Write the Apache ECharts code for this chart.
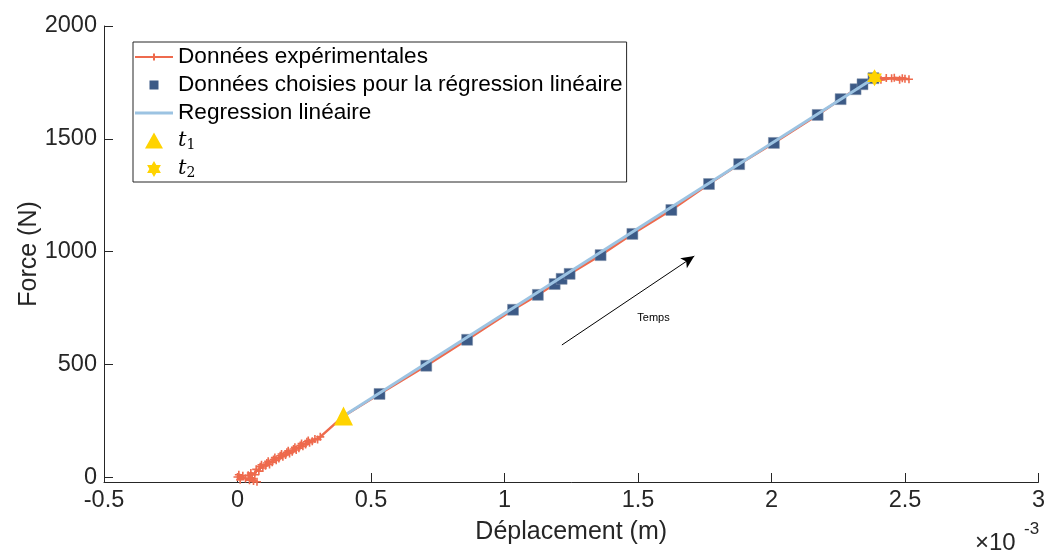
<!DOCTYPE html>
<html>
<head>
<meta charset="utf-8">
<script src="https://cdn.jsdelivr.net/npm/echarts@6/dist/echarts.min.js"></script>
<style>
    html, body { margin: 0; padding: 0; background: #fff; }
    #main { width: 1048px; height: 551px; }
</style>
</head>
<body>
<div id="main"></div>
<script>
    // x in units of 1e-3 m, y in N
    var yTickValues = [0, 500, 1000, 1500, 2000];

    var experimental = [
        [0.000, 2], [0.010, -10], [0.020, 8], [0.005, 12], [0.030, -4], [0.045, -12],
        [0.060, -16], [0.073, -19], [0.055, -6], [0.040, 10], [0.050, 20], [0.065, 12],
        [0.070, 36], [0.080, 28], [0.085, 48], [0.095, 42], [0.090, 56], [0.105, 52],
        [0.110, 64], [0.120, 58], [0.115, 72], [0.130, 68], [0.135, 80], [0.145, 76],
        [0.140, 88], [0.155, 84], [0.160, 96], [0.170, 92], [0.165, 104], [0.180, 100],
        [0.185, 112], [0.195, 106], [0.190, 118], [0.205, 114], [0.210, 126], [0.220, 122],
        [0.215, 134], [0.230, 130], [0.235, 142], [0.245, 138], [0.240, 150], [0.255, 146],
        [0.260, 158], [0.270, 154], [0.265, 164], [0.280, 160], [0.290, 170], [0.300, 168],
        [0.310, 180],
        [0.397, 272], [0.532, 370], [0.707, 495], [0.860, 610], [1.032, 743], [1.125, 809],
        [1.188, 857], [1.214, 880], [1.244, 902], [1.360, 985], [1.479, 1079], [1.625, 1185],
        [1.766, 1300], [1.879, 1388], [2.009, 1482], [2.173, 1606], [2.259, 1676], [2.315, 1720],
        [2.341, 1742], [2.382, 1769], [2.400, 1766], [2.430, 1770], [2.410, 1762], [2.450, 1768],
        [2.480, 1762], [2.460, 1771], [2.500, 1766], [2.515, 1764], [2.490, 1769]
    ];

    var chosen = [
        [0.532, 370], [0.707, 495], [0.860, 610], [1.032, 743], [1.125, 809], [1.188, 857],
        [1.214, 880], [1.244, 902], [1.360, 985], [1.479, 1079], [1.625, 1185], [1.766, 1300],
        [1.879, 1388], [2.009, 1482], [2.173, 1606], [2.259, 1676], [2.315, 1720], [2.341, 1742],
        [2.382, 1769]
    ];

    var regression = [[0.397, 272], [2.386, 1771]];
    var t1Point = [[0.397, 272]];
    var t2Point = [[2.386, 1771]];

    var arrowFrom = [1.215, 587];
    var arrowTo = [1.711, 981];
    var tempsAt = [1.558, 707];

    var FONT = '"Liberation Sans", Arial, sans-serif';
    var AXIS = '#262626';
    var plusPath = 'path://M4,0H6V4H10V6H6V10H4V6H0V4H4Z';
    var hexagram = 'path://M100,0L128.9,50L186.6,50L157.7,100L186.6,150L128.9,150L100,200L71.1,150L13.4,150L42.3,100L13.4,50L71.1,50Z';

    // legend icons drawn in a 38x24 box (corner dots keep the box size)
    var box = 'M0,0L0.01,0M38,24L38.01,24';
    var iconExp = 'path://' + box + 'M0,11H38V13H0ZM18,8.5H20V15.5H18Z';
    var iconSquare = 'path://' + box + 'M14.5,7.5H23.5V16.5H14.5Z';
    var iconReg = 'path://' + box + 'M0,10.5H38V13.5H0Z';
    var iconTri = 'path://' + box + 'M19,3.5L28,19.5L10,19.5Z';
    var iconStar = 'path://' + box + 'M19,4L21.3,8L25.9,8L23.6,12L25.9,16L21.3,16L19,20L16.7,16L12.1,16L14.4,12L12.1,8L16.7,8Z';

    var chart = echarts.init(document.getElementById('main'));

    var option = {
        animation: false,
        grid: { left: 104, right: 7, top: 26, bottom: 69 },
        legend: {
            left: 133,
            top: 42,
            orient: 'vertical',
            selectedMode: false,
            backgroundColor: '#fff',
            borderColor: AXIS,
            borderWidth: 1,
            borderRadius: 0,
            padding: [3, 4, 1, 2],
            itemGap: 4,
            itemWidth: 38,
            itemHeight: 24,
            symbolKeepAspect: true,
            textStyle: {
                fontFamily: FONT,
                fontSize: 22.6,
                lineHeight: 24,
                color: '#000',
                rich: {
                    t: { fontFamily: '"DejaVu Serif", serif', fontStyle: 'italic', fontSize: 21, color: '#000' },
                    s: { fontFamily: '"DejaVu Serif", serif', fontSize: 14, color: '#000', padding: [8, 0, 0, 0] }
                }
            },
            formatter: function (name) {
                if (name === 't1') return '{t|t}{s|1}';
                if (name === 't2') return '{t|t}{s|2}';
                return name;
            },
            data: [
                { name: 'Données expérimentales', icon: iconExp, itemStyle: { borderWidth: 0 } },
                { name: 'Données choisies pour la régression linéaire', icon: iconSquare, itemStyle: { borderWidth: 0 } },
                { name: 'Regression linéaire', icon: iconReg, itemStyle: { borderWidth: 0 } },
                { name: 't1', icon: iconTri, itemStyle: { borderWidth: 0 } },
                { name: 't2', icon: iconStar, itemStyle: { borderWidth: 0 } }
            ]
        },
        xAxis: {
            type: 'value',
            min: -0.5,
            max: 3,
            interval: 0.5,
            name: 'Déplacement (m)',
            nameLocation: 'middle',
            nameGap: 38,
            nameMoveOverlap: false,
            nameTextStyle: { fontFamily: FONT, fontSize: 25, color: AXIS },
            axisLine: { show: true, onZero: false, lineStyle: { color: AXIS, width: 1 } },
            axisTick: { show: true, inside: true, length: 9, lineStyle: { color: AXIS } },
            axisLabel: { fontFamily: FONT, fontSize: 23.5, color: AXIS, margin: 7, showMinLabel: true, showMaxLabel: true },
            splitLine: { show: false }
        },
        yAxis: {
            type: 'value',
            min: -20,
            max: 2000,
            name: 'Force (N)',
            nameLocation: 'middle',
            nameGap: 62,
            nameMoveOverlap: false,
            nameTextStyle: { fontFamily: FONT, fontSize: 25, color: AXIS },
            axisLine: { show: true, onZero: false, lineStyle: { color: AXIS, width: 1 } },
            axisTick: { show: true, inside: true, length: 9, customValues: yTickValues, lineStyle: { color: AXIS } },
            axisLabel: {
                fontFamily: FONT, fontSize: 23.5, color: AXIS, margin: 7, customValues: yTickValues,
                formatter: function (v) { return String(v); }
            },
            splitLine: { show: false }
        },
        series: [
            {
                name: 'Données expérimentales',
                type: 'line',
                data: experimental,
                symbol: plusPath,
                symbolSize: 8,
                lineStyle: { color: '#EE6A4D', width: 2.5 },
                itemStyle: { color: '#EE6A4D' },
                z: 2
            },
            {
                name: 'Données choisies pour la régression linéaire',
                type: 'scatter',
                data: chosen,
                symbol: 'rect',
                symbolSize: 11,
                itemStyle: { color: '#3C5A86', borderColor: '#8392AA', borderWidth: 0.5, opacity: 1 },
                z: 3
            },
            {
                name: 'Regression linéaire',
                type: 'line',
                data: regression,
                showSymbol: false,
                symbol: 'none',
                lineStyle: { color: '#9CC3E2', width: 3 },
                itemStyle: { color: '#9CC3E2' },
                z: 4,
                markLine: {
                    silent: true,
                    symbol: ['none', 'arrow'],
                    symbolSize: [9, 13],
                    lineStyle: { color: '#000', width: 1, type: 'solid' },
                    label: { show: false },
                    data: [[{ coord: arrowFrom }, { coord: arrowTo }]]
                },
                markPoint: {
                    silent: true,
                    symbol: 'rect',
                    symbolSize: 1,
                    itemStyle: { color: 'rgba(0,0,0,0)' },
                    label: { show: true, position: 'inside', formatter: 'Temps', color: '#000', fontFamily: FONT, fontSize: 11 },
                    data: [{ coord: tempsAt }]
                }
            },
            {
                name: 't1',
                type: 'scatter',
                data: t1Point,
                symbol: 'triangle',
                symbolSize: 19,
                itemStyle: { color: '#FFD300', opacity: 1 },
                z: 5
            },
            {
                name: 't2',
                type: 'scatter',
                data: t2Point,
                symbol: hexagram,
                symbolKeepAspect: true,
                symbolSize: 17,
                itemStyle: { color: '#FFD300', opacity: 1 },
                z: 6
            }
        ],
        graphic: [
            {
                type: 'text',
                left: 975,
                top: 531,
                style: { text: '×10', fontFamily: FONT, fontSize: 24, fill: AXIS }
            },
            {
                type: 'text',
                left: 1024,
                top: 521,
                style: { text: '-3', fontFamily: FONT, fontSize: 17, fill: AXIS }
            }
        ]
    };

    chart.setOption(option);
</script>
</body>
</html>
